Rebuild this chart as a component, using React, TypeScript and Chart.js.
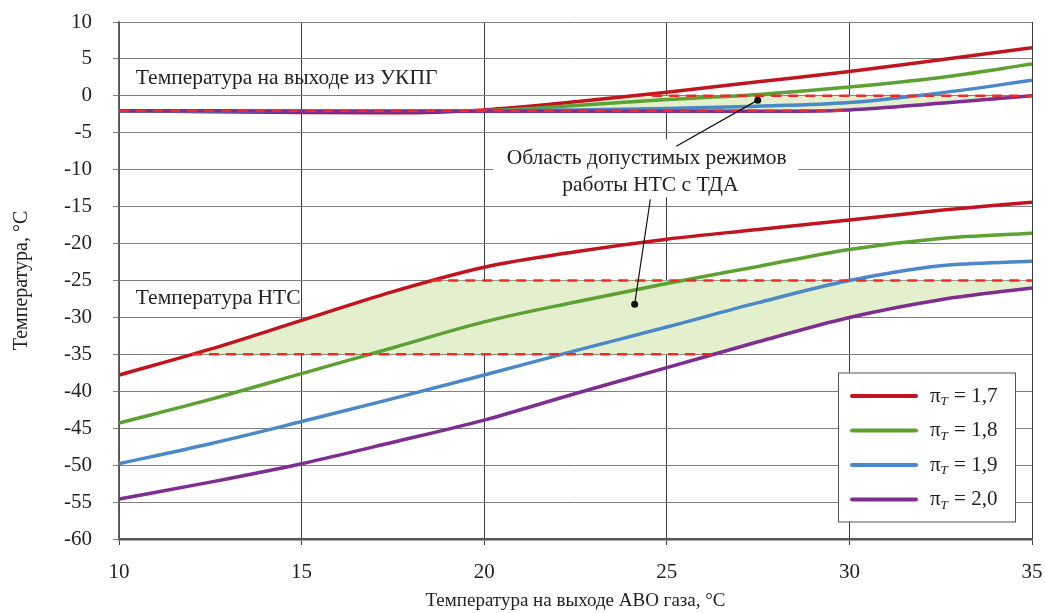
import React, { useEffect, useRef } from 'react';
import { Chart, registerables } from 'chart.js';

Chart.register(...registerables);

// ---------- data ----------
const xValues = [10, 12.5, 15, 17.5, 20, 22.5, 25, 27.5, 30, 32.5, 35];

// Температура на выходе из УКПГ
const outlet17 = [-2.0, -2.15, -2.25, -2.3, -1.9, -0.8, 0.5, 1.9, 3.3, 4.9, 6.5];
const outlet18 = [-2.0, -2.05, -2.1, -2.1, -2.0, -1.3, -0.5, 0.2, 1.2, 2.5, 4.3];
const outlet19 = [-2.0, -2.05, -2.1, -2.1, -2.0, -1.9, -1.7, -1.4, -0.9, 0.4, 2.1];
const outlet20 = [-2.0, -2.0, -2.1, -2.1, -2.1, -2.1, -2.1, -2.1, -1.9, -1.0, 0.0];

// Температура НТС
const nts17 = [-37.8, -34.3, -30.4, -26.5, -23.2, -21.1, -19.4, -18.1, -16.8, -15.5, -14.4];
const nts18 = [-44.3, -41.1, -37.6, -34.1, -30.6, -27.9, -25.4, -23.1, -20.8, -19.3, -18.6];
const nts19 = [-49.8, -47.1, -44.1, -41.0, -37.8, -34.5, -31.3, -28.0, -25.0, -23.0, -22.4];
const nts20 = [-54.6, -52.3, -49.8, -46.9, -43.9, -40.3, -36.8, -33.3, -30.0, -27.6, -26.0];

// Limits (dashed)
const outletUpperLimitX = [24.6, 35];
const outletUpperLimit = 0;
const outletLowerLimitX = [10, 30];
const outletLowerLimit = -2;
const ntsUpperLimitX = [18.55, 35];
const ntsUpperLimit = -25;
const ntsLowerLimitX = [12, 26.3];
const ntsLowerLimit = -35;

const piLabels = ['1,7', '1,8', '1,9', '2,0'];
const xTicks = [10, 15, 20, 25, 30, 35];
const yTicks = [10, 5, 0, -5, -10, -15, -20, -25, -30, -35, -40, -45, -50, -55, -60];

// ---------- styles ----------
const FONT = "'Liberation Serif', 'Times New Roman', serif";
const COLORS = ['#C0141E', '#5DA132', '#4A88C8', '#7E2D91'];
const DASH = '#F02A2A';
const FILL = '#E4EFCE';
const TEXT = '#222222';

const pts = (ys: number[]) => xValues.map((x, i) => ({ x, y: ys[i] }));
const seg = (xs: number[], v: number) => xs.map((x) => ({ x, y: v }));

const curve = (label: string, data: number[], color: string, order: number) => ({
  label,
  data: pts(data),
  borderColor: color,
  backgroundColor: color,
  borderWidth: 3.5,
  pointRadius: 0,
  cubicInterpolationMode: 'monotone' as const,
  fill: false,
  order,
});

const dashed = (label: string, xs: number[], v: number) => ({
  label,
  data: seg(xs, v),
  borderColor: DASH,
  backgroundColor: DASH,
  borderWidth: 2.5,
  borderDash: [10, 7],
  pointRadius: 0,
  fill: false,
  order: 0,
});

// zones: [upperDatasetIndex, lowerDatasetIndex, bandLow, bandHigh]
const zones = [
  [0, 3, outletLowerLimit, outletUpperLimit],
  [4, 7, ntsLowerLimit, ntsUpperLimit],
];

const zonePlugin = {
  id: 'zonePlugin',
  beforeDatasetsDraw(chart: any) {
    const { ctx, chartArea: area } = chart;
    const ys = chart.scales.y;
    for (const zone of zones) {
      const [upIdx, loIdx, bLow, bHigh] = zone;
      const upLine = chart.getDatasetMeta(upIdx).dataset;
      const loLine = chart.getDatasetMeta(loIdx).dataset;
      if (!upLine || !loLine) continue;
      upLine.updateControlPoints(area, 'x');
      loLine.updateControlPoints(area, 'x');
      const yTop = ys.getPixelForValue(bHigh);
      const yBot = ys.getPixelForValue(bLow);
      ctx.save();
      ctx.beginPath();
      ctx.rect(area.left, yTop, area.right - area.left, yBot - yTop);
      ctx.clip();
      const upPts = upLine.points;
      ctx.beginPath();
      upLine.path(ctx);
      ctx.lineTo(upPts[upPts.length - 1].x, area.bottom + 5);
      ctx.lineTo(upPts[0].x, area.bottom + 5);
      ctx.closePath();
      ctx.clip();
      const loPts = loLine.points;
      ctx.beginPath();
      loLine.path(ctx);
      ctx.lineTo(loPts[loPts.length - 1].x, area.top - 5);
      ctx.lineTo(loPts[0].x, area.top - 5);
      ctx.closePath();
      ctx.clip();
      ctx.fillStyle = FILL;
      ctx.fillRect(area.left, yTop, area.right - area.left, yBot - yTop);
      ctx.restore();
    }
  },
};

// annotation anchors (data units)
const outletLabelPos = { x: 10.46, y: 2.4 };
const ntsLabelPos = { x: 10.46, y: -27.45 };
const noteBox = { x1: 20.25, x2: 28.6, y1: -5.87, y2: -13.74 };
const noteLines = ['Область допустимых режимов', 'работы НТС с ТДА'];
const noteLinePos = [
  { x: 24.45, y: -8.45 },
  { x: 24.55, y: -12.1 },
];
const pointers = [
  { from: { x: 25.26, y: -6.82 }, to: { x: 27.49, y: -0.58 } },
  { from: { x: 24.55, y: -14.0 }, to: { x: 24.12, y: -28.2 } },
];

const annotationPlugin = {
  id: 'annotationPlugin',
  afterDatasetsDraw(chart: any) {
    const { ctx } = chart;
    const xs = chart.scales.x;
    const ys = chart.scales.y;
    const px = (x: number) => xs.getPixelForValue(x);
    const py = (y: number) => ys.getPixelForValue(y);
    ctx.save();
    ctx.fillStyle = TEXT;
    ctx.font = `21.5px ${FONT}`;
    ctx.textAlign = 'left';
    ctx.textBaseline = 'middle';
    ctx.fillText('Температура на выходе из УКПГ', px(outletLabelPos.x), py(outletLabelPos.y));
    ctx.fillText('Температура НТС', px(ntsLabelPos.x), py(ntsLabelPos.y));

    // white box for note
    ctx.fillStyle = '#ffffff';
    ctx.fillRect(px(noteBox.x1), py(noteBox.y1), px(noteBox.x2) - px(noteBox.x1), py(noteBox.y2) - py(noteBox.y1));

    ctx.fillStyle = TEXT;
    ctx.textAlign = 'center';
    noteLines.forEach((t, i) => ctx.fillText(t, px(noteLinePos[i].x), py(noteLinePos[i].y)));

    ctx.strokeStyle = '#111';
    ctx.lineWidth = 1.2;
    ctx.fillStyle = '#111';
    for (const p of pointers) {
      ctx.beginPath();
      ctx.moveTo(px(p.from.x), py(p.from.y));
      ctx.lineTo(px(p.to.x), py(p.to.y));
      ctx.stroke();
      ctx.beginPath();
      ctx.arc(px(p.to.x), py(p.to.y), 3.5, 0, Math.PI * 2);
      ctx.fill();
    }
    ctx.restore();
  },
  afterDraw(chart: any) {
    const { ctx, chartArea: a } = chart;
    const w = 177;
    const h = 149;
    const right = a.right - 17;
    const bottom = a.bottom - 17.5;
    const left = right - w;
    const top = bottom - h;
    ctx.save();
    ctx.fillStyle = '#ffffff';
    ctx.fillRect(left, top, w, h);
    ctx.strokeStyle = '#555';
    ctx.lineWidth = 1;
    ctx.strokeRect(left + 0.5, top + 0.5, w, h);
    piLabels.forEach((lab, i) => {
      const cy = top + 23.5 + i * 34.5;
      ctx.strokeStyle = COLORS[i];
      ctx.lineWidth = 4;
      ctx.lineCap = 'round';
      ctx.beginPath();
      ctx.moveTo(left + 14, cy);
      ctx.lineTo(left + 78, cy);
      ctx.stroke();
      ctx.fillStyle = TEXT;
      ctx.textBaseline = 'middle';
      ctx.textAlign = 'left';
      let x = left + 92;
      ctx.font = `21px ${FONT}`;
      ctx.fillText('π', x, cy);
      x += ctx.measureText('π').width;
      ctx.font = `italic 13px ${FONT}`;
      ctx.fillText('T', x, cy + 6);
      x += ctx.measureText('T').width + 1;
      ctx.font = `21px ${FONT}`;
      ctx.fillText(' = ' + lab, x, cy);
    });
    ctx.restore();
  },
};

export default function App() {
  const ref = useRef<HTMLCanvasElement>(null);
  useEffect(() => {
    document.body.style.margin = '0';
    const canvas = ref.current;
    if (!canvas) return;
    const chart = new Chart(canvas, {
      type: 'line',
      data: {
        datasets: [
          curve('УКПГ 1,7', outlet17, COLORS[0], 4),
          curve('УКПГ 1,8', outlet18, COLORS[1], 3),
          curve('УКПГ 1,9', outlet19, COLORS[2], 2),
          curve('УКПГ 2,0', outlet20, COLORS[3], 1),
          curve('НТС 1,7', nts17, COLORS[0], 4),
          curve('НТС 1,8', nts18, COLORS[1], 3),
          curve('НТС 1,9', nts19, COLORS[2], 2),
          curve('НТС 2,0', nts20, COLORS[3], 1),
          dashed('УКПГ max', outletUpperLimitX, outletUpperLimit),
          dashed('УКПГ min', outletLowerLimitX, outletLowerLimit),
          dashed('НТС max', ntsUpperLimitX, ntsUpperLimit),
          dashed('НТС min', ntsLowerLimitX, ntsLowerLimit),
        ] as any,
      },
      options: {
        animation: false,
        responsive: false,
        devicePixelRatio: 1,
        layout: { padding: { top: 22, right: 13, bottom: 0, left: 0 } },
        plugins: {
          legend: { display: false },
          tooltip: { enabled: false },
        },
        scales: {
          x: {
            type: 'linear',
            min: 10,
            max: 35,
            afterFit: (s: any) => {
              s.height = 74;
              s.paddingLeft = 0;
              s.paddingRight = 0;
              s.paddingTop = 0;
              s.paddingBottom = 0;
            },
            afterBuildTicks: (s: any) => {
              s.ticks = xTicks.map((v) => ({ value: v }));
            },
            ticks: {
              font: { family: FONT, size: 21 },
              color: TEXT,
              padding: 14.5,
              maxRotation: 0,
            },
            grid: { color: '#3c3c3c', lineWidth: 1, tickLength: 6 },
            border: { color: '#555', width: 2.5 },
            title: {
              display: true,
              text: 'Температура на выходе АВО газа, °C',
              font: { family: FONT, size: 19 },
              color: TEXT,
              padding: { top: 0, bottom: 1 },
            },
          },
          y: {
            type: 'linear',
            min: -60,
            max: 10,
            afterFit: (s: any) => {
              s.width = 119;
              s.paddingLeft = 0;
              s.paddingRight = 0;
              s.paddingTop = 0;
              s.paddingBottom = 0;
            },
            afterBuildTicks: (s: any) => {
              s.ticks = yTicks.map((v) => ({ value: v }));
            },
            ticks: {
              font: { family: FONT, size: 21 },
              color: TEXT,
              padding: 21,
            },
            grid: { color: '#808080', lineWidth: 1, tickLength: 6 },
            border: { color: '#666', width: 1.5 },
            title: {
              display: true,
              text: 'Температура, °C',
              font: { family: FONT, size: 20 },
              color: TEXT,
              padding: { top: 10, bottom: 0 },
            },
          },
        },
      },
      plugins: [zonePlugin, annotationPlugin],
    } as any);
    return () => chart.destroy();
  }, []);
  return (
    <div style={{ width: 1045, height: 613 }}>
      <canvas ref={ref} width={1045} height={613} />
    </div>
  );
}
